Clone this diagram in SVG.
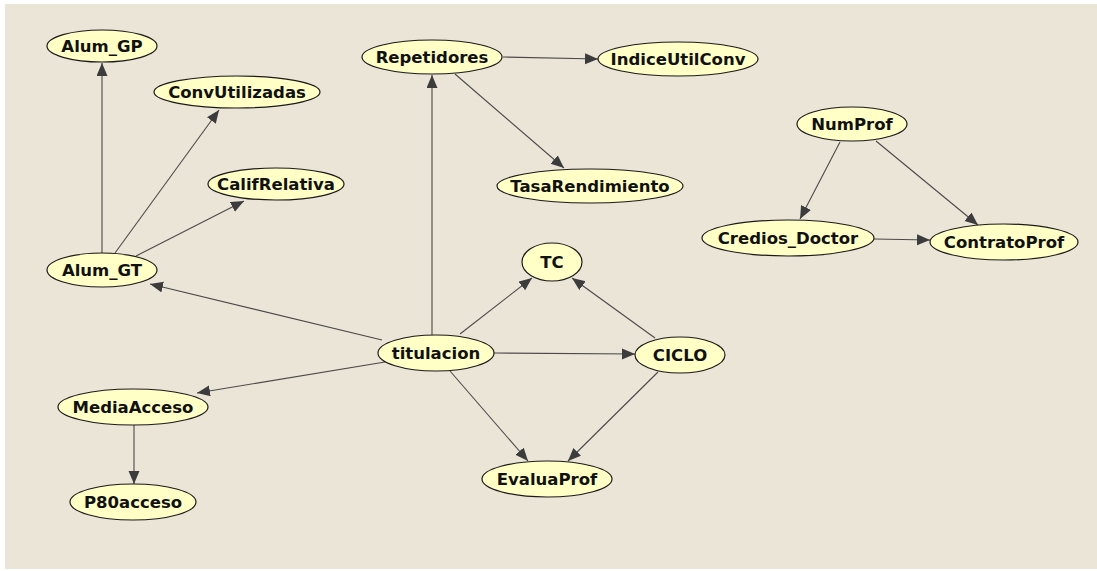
<svg xmlns="http://www.w3.org/2000/svg" width="1097" height="571" viewBox="0 0 1097 571">
  <defs>
    <marker id="arrow" markerUnits="userSpaceOnUse" markerWidth="14" markerHeight="12" refX="13" refY="5.5" orient="auto">
      <path d="M0,0 L13,5.5 L0,11 Z" fill="#3c3c3c"/>
    </marker>
    <style>
      .node ellipse { fill: #ffffc6; stroke: #1a1a1a; stroke-width: 1.2; }
      .node text { font-family: "DejaVu Sans", Verdana, sans-serif; font-weight: bold; font-size: 16.5px; fill: #111; text-anchor: middle; }
      #edges line { stroke: #4a4a4a; stroke-width: 1.1; marker-end: url(#arrow); }
    </style>
  </defs>

  <!-- canvas with thin white margin -->
  <rect x="0" y="0" width="1097" height="571" fill="#ffffff"/>
  <rect x="5" y="4" width="1092" height="565" fill="#ebe5d8"/>

  <g id="edges">
    <line x1="102" y1="253" x2="102" y2="63"/>
    <line x1="115" y1="253" x2="219" y2="110"/>
    <line x1="136" y1="256" x2="244" y2="201"/>
    <line x1="382" y1="340" x2="150" y2="284"/>
    <line x1="432" y1="335" x2="432" y2="75"/>
    <line x1="503" y1="57" x2="598" y2="59"/>
    <line x1="455" y1="74" x2="564" y2="168"/>
    <line x1="840" y1="142" x2="800" y2="219"/>
    <line x1="876" y1="141" x2="978" y2="225"/>
    <line x1="874" y1="239" x2="930" y2="240"/>
    <line x1="460" y1="334" x2="532" y2="278"/>
    <line x1="655" y1="338" x2="572" y2="278"/>
    <line x1="494" y1="353" x2="635" y2="354"/>
    <line x1="450" y1="371" x2="528" y2="461"/>
    <line x1="658" y1="372" x2="568" y2="461"/>
    <line x1="385" y1="362" x2="197" y2="393"/>
    <line x1="134" y1="425" x2="134" y2="484"/>
  </g>

  <g id="n-alum-gp" class="node"><ellipse cx="102" cy="46" rx="55" ry="16"/><text x="102" y="52">Alum_GP</text></g>
  <g id="n-convutilizadas" class="node"><ellipse cx="237" cy="92" rx="83" ry="16"/><text x="237" y="98">ConvUtilizadas</text></g>
  <g id="n-califrelativa" class="node"><ellipse cx="276" cy="184" rx="68" ry="16"/><text x="276" y="190">CalifRelativa</text></g>
  <g id="n-alum-gt" class="node"><ellipse cx="102" cy="270" rx="55" ry="17"/><text x="102" y="276">Alum_GT</text></g>
  <g id="n-repetidores" class="node"><ellipse cx="432" cy="57" rx="70" ry="17"/><text x="432" y="63">Repetidores</text></g>
  <g id="n-indiceutilconv" class="node"><ellipse cx="678" cy="59" rx="80" ry="17"/><text x="678" y="65">IndiceUtilConv</text></g>
  <g id="n-tasarendimiento" class="node"><ellipse cx="590" cy="186" rx="93" ry="17"/><text x="590" y="192">TasaRendimiento</text></g>
  <g id="n-numprof" class="node"><ellipse cx="852" cy="124" rx="55" ry="17"/><text x="852" y="130">NumProf</text></g>
  <g id="n-credios-doctor" class="node"><ellipse cx="788" cy="238" rx="86" ry="18"/><text x="788" y="244">Credios_Doctor</text></g>
  <g id="n-contratoprof" class="node"><ellipse cx="1004" cy="242" rx="74" ry="18"/><text x="1004" y="248">ContratoProf</text></g>
  <g id="n-titulacion" class="node"><ellipse cx="436" cy="353" rx="58" ry="18"/><text x="436" y="359">titulacion</text></g>
  <g id="n-tc" class="node"><ellipse cx="552" cy="262" rx="30" ry="19"/><text x="552" y="268">TC</text></g>
  <g id="n-ciclo" class="node"><ellipse cx="680" cy="355" rx="45" ry="18"/><text x="680" y="361">CICLO</text></g>
  <g id="n-evaluaprof" class="node"><ellipse cx="547" cy="479" rx="65" ry="18"/><text x="547" y="485">EvaluaProf</text></g>
  <g id="n-mediaacceso" class="node"><ellipse cx="133" cy="407" rx="75" ry="18"/><text x="133" y="413">MediaAcceso</text></g>
  <g id="n-p80acceso" class="node"><ellipse cx="133" cy="502" rx="63" ry="18"/><text x="133" y="508">P80acceso</text></g>
</svg>
